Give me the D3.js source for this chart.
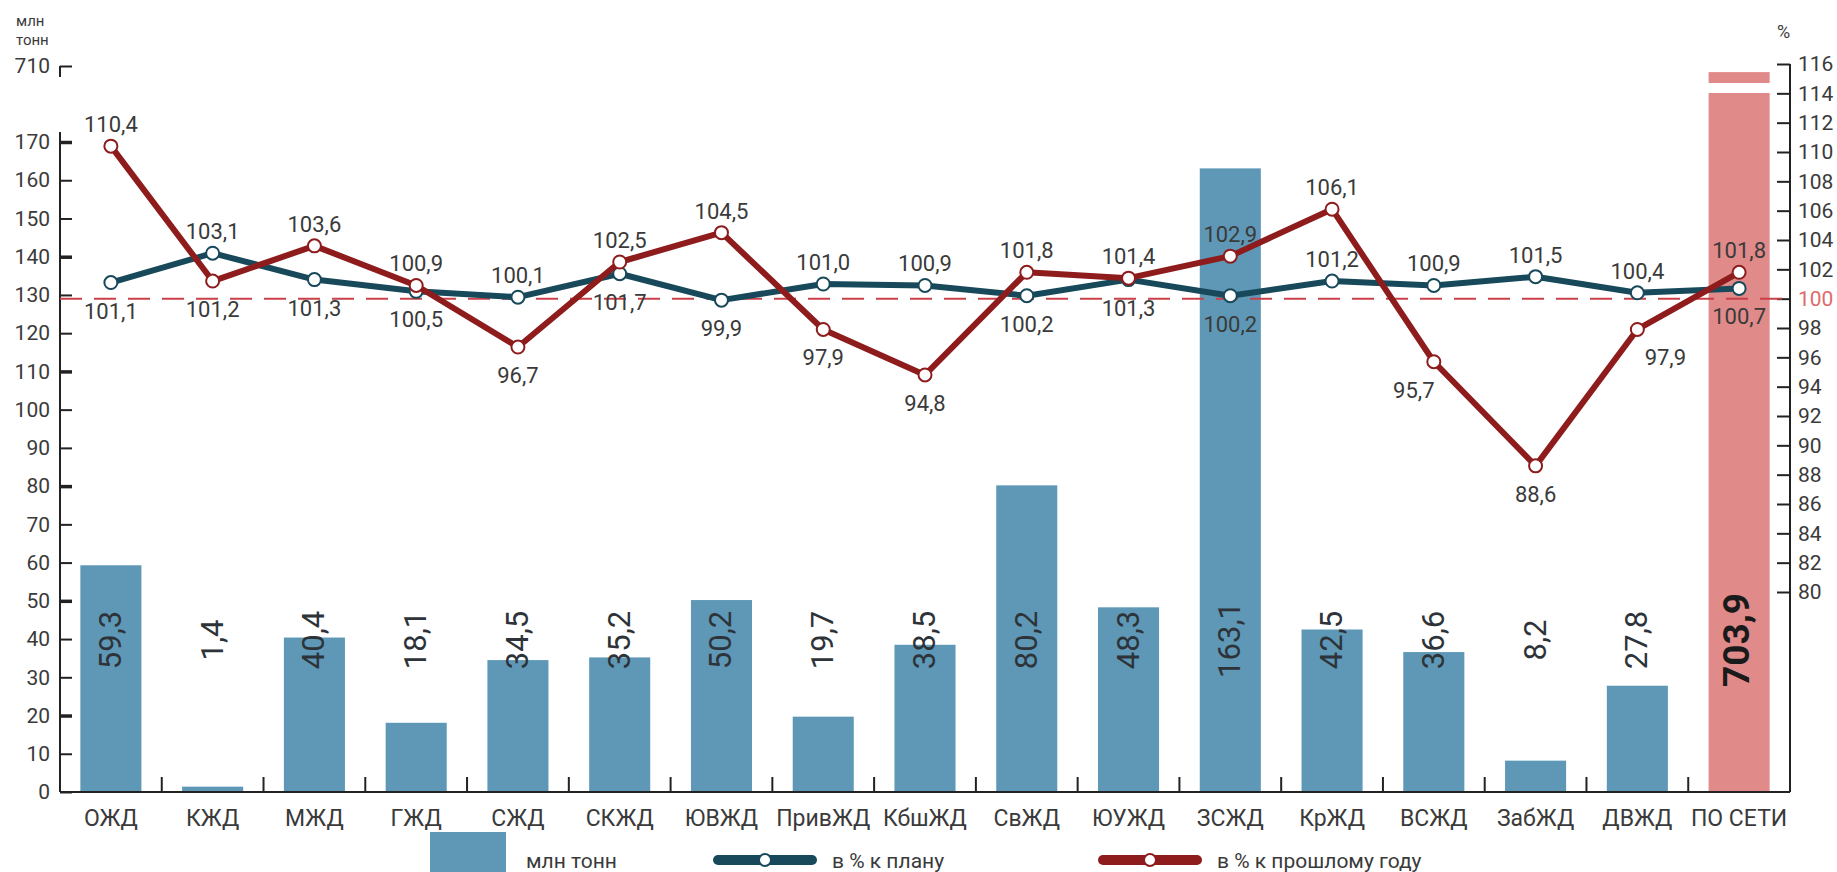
<!DOCTYPE html>
<html>
<head>
<meta charset="utf-8">
<script src="https://cdn.jsdelivr.net/npm/d3@7"></script>
<style>
  body { margin: 0; background: #fff; }
  svg { font-family: Roboto, "Liberation Sans", sans-serif; }
</style>
</head>
<body>
<svg width="1837" height="872"></svg>
<script>
// railways
const roads = ["ОЖД", "КЖД", "МЖД", "ГЖД", "СЖД", "СКЖД", "ЮВЖД", "ПривЖД", "КбшЖД",
  "СвЖД", "ЮУЖД", "ЗСЖД", "КрЖД", "ВСЖД", "ЗабЖД", "ДВЖД", "ПО СЕТИ"];
// млн тонн
const tonnes = [59.3, 1.4, 40.4, 18.1, 34.5, 35.2, 50.2, 19.7, 38.5, 80.2, 48.3, 163.1, 42.5, 36.6, 8.2, 27.8, 703.9];
// в % к плану
const planPct = [101.1, 103.1, 101.3, 100.5, 100.1, 101.7, 99.9, 101.0, 100.9, 100.2, 101.3, 100.2, 101.2, 100.9, 101.5, 100.4, 100.7];
// в % к прошлому году
const prevPct = [110.4, 101.2, 103.6, 100.9, 96.7, 102.5, 104.5, 97.9, 94.8, 101.8, 101.4, 102.9, 106.1, 95.7, 88.6, 97.9, 101.8];

const leftTicks = [0, 10, 20, 30, 40, 50, 60, 70, 80, 90, 100, 110, 120, 130, 140, 150, 160, 170, 710];
const rightTicks = [80, 82, 84, 86, 88, 90, 92, 94, 96, 98, 100, 102, 104, 106, 108, 110, 112, 114, 116];

// where the value label sits: a = above point, b = below
const planSide = ["b", "a", "b", "b", "a", "b", "b", "a", "a", "b", "b", "b", "a", "a", "a", "a", "b"];
const prevSide = ["a", "b", "a", "a", "b", "a", "a", "b", "b", "a", "a", "a", "a", "b", "b", "b", "a"];

const BLUE_BAR = "#5e98b6", PINK_BAR = "#e18a8a";
const PLAN_COL = "#17495a", PREV_COL = "#8e1c1c";
const TXT = "#3a3a3a";

const fmt = d => d.toFixed(1).replace(".", ",");

let margin = { left: 60, right: 47, top: 66, bottom: 80 };
const W = 1837, H = 872;
const x0 = margin.left, x1 = W - margin.right, yBase = H - margin.bottom;

const svg = d3.select("svg");

const x = d3.scaleBand().domain(roads).range([x0, x1]).paddingInner(0.4).paddingOuter(0.2);
// broken scale: 0..170 then jump to 700..710
const yL = d3.scaleLinear().domain([0, 170, 700, 710]).range([yBase, 142, 76, 66]);
const yR = d3.scaleLinear().domain([80, 116]).range([592, 64]);

/**
 * bars
 */
svg.append("g").selectAll("rect")
  .data(roads)
  .join("rect")
  .attr("x", d => x(d))
  .attr("width", x.bandwidth())
  .attr("y", (d, i) => yL(tonnes[i]))
  .attr("height", (d, i) => yBase - yL(tonnes[i]))
  .attr("fill", (d, i) => i == roads.length - 1 ? PINK_BAR : BLUE_BAR);

// break in the total bar
svg.append("rect")
  .attr("x", x(roads[roads.length - 1]) - 2)
  .attr("width", x.bandwidth() + 4)
  .attr("y", 83)
  .attr("height", 10)
  .attr("fill", "#fff");

/**
 * left axis
 */
const gl = svg.append("g")
  .attr("transform", `translate(${x0},0)`)
  .call(d3.axisLeft(yL).tickValues(leftTicks).tickSize(-12).tickPadding(10).tickFormat(d => d));
gl.select(".domain").remove();
gl.selectAll(".tick line")
  .attr("stroke", "#222")
  .attr("stroke-width", d => (d % 30 == 20 && d <= 170) ? 3.5 : 2);
gl.selectAll(".tick text").attr("fill", TXT).style("font-size", "21px").attr("font-family", "Roboto, 'Liberation Sans', sans-serif");
gl.append("line").attr("x1", 0).attr("x2", 0).attr("y1", 132).attr("y2", yBase).attr("stroke", "#222").attr("stroke-width", 2);
gl.append("line").attr("x1", 0).attr("x2", 0).attr("y1", yL(710)).attr("y2", yL(710) + 11).attr("stroke", "#222").attr("stroke-width", 2);

svg.append("text").attr("x", 16).attr("y", 26).text("млн").attr("fill", TXT).style("font-size", "15px");
svg.append("text").attr("x", 16).attr("y", 45).text("тонн").attr("fill", TXT).style("font-size", "15px");

/**
 * right axis
 */
const gr = svg.append("g")
  .attr("transform", `translate(${x1},0)`)
  .call(d3.axisRight(yR).tickValues(rightTicks).tickSize(-13).tickPadding(8).tickFormat(d => d));
gr.select(".domain").remove();
gr.selectAll(".tick line").attr("stroke", "#222").attr("stroke-width", 2);
gr.selectAll(".tick text")
  .attr("fill", d => d == 100 ? "#e06a6c" : TXT)
  .style("font-size", "21px")
  .attr("font-family", "Roboto, 'Liberation Sans', sans-serif");
gr.append("line").attr("x1", 0).attr("x2", 0).attr("y1", yR(116)).attr("y2", yBase).attr("stroke", "#222").attr("stroke-width", 2);
svg.append("text").attr("x", 1777).attr("y", 38).text("%").attr("fill", TXT).style("font-size", "18px");

/**
 * bottom axis with ticks between bands
 */
svg.append("line").attr("x1", x0).attr("x2", x1).attr("y1", yBase).attr("y2", yBase).attr("stroke", "#222").attr("stroke-width", 2);
svg.append("g").selectAll("line")
  .data(roads.slice(1))
  .join("line")
  .attr("x1", d => x(d) - x.step() * x.paddingInner() / 2)
  .attr("x2", d => x(d) - x.step() * x.paddingInner() / 2)
  .attr("y1", yBase)
  .attr("y2", yBase - 15)
  .attr("stroke", "#222")
  .attr("stroke-width", 2);
svg.append("g").selectAll("text")
  .data(roads)
  .join("text")
  .attr("x", d => x(d) + x.bandwidth() / 2)
  .attr("y", yBase + 34)
  .attr("text-anchor", "middle")
  .attr("fill", TXT)
  .style("font-size", "23px")
  .text(d => d);

/**
 * bar value labels (rotated)
 */
svg.append("g").selectAll("text")
  .data(roads)
  .join("text")
  .attr("transform", d => `translate(${x(d) + x.bandwidth() / 2 + 10},640) rotate(-90)`)
  .attr("text-anchor", "middle")
  .attr("fill", (d, i) => i == roads.length - 1 ? "#1a1a1a" : "#2d3338")
  .style("font-size", (d, i) => i == roads.length - 1 ? "37px" : "31px")
  .style("font-weight", (d, i) => i == roads.length - 1 ? "bold" : "normal")
  .text((d, i) => fmt(tonnes[i]));

/**
 * 100% dashed line
 */
svg.append("line")
  .attr("x1", x0).attr("x2", x1)
  .attr("y1", yR(100)).attr("y2", yR(100))
  .attr("stroke", "#c9404a")
  .attr("stroke-width", 2)
  .attr("stroke-dasharray", "22,12");

/**
 * lines
 */
const cx = d => x(d) + x.bandwidth() / 2;
function drawSeries(vals, col) {
  const line = d3.line().x((d, i) => cx(roads[i])).y(d => yR(d));
  const g = svg.append("g");
  g.append("path")
    .datum(vals)
    .attr("fill", "none")
    .attr("stroke", col)
    .attr("stroke-width", 6)
    .attr("stroke-linejoin", "round")
    .attr("d", line);
  g.selectAll("circle")
    .data(vals)
    .join("circle")
    .attr("cx", (d, i) => cx(roads[i]))
    .attr("cy", d => yR(d))
    .attr("r", 6.5)
    .attr("fill", "#fff")
    .attr("stroke", col)
    .attr("stroke-width", 2);
}
drawSeries(planPct, PLAN_COL);
drawSeries(prevPct, PREV_COL);

function drawLabels(vals, side, shift) {
  svg.append("g").selectAll("text")
    .data(vals)
    .join("text")
    .attr("x", (d, i) => cx(roads[i]) + (shift[i] || 0))
    .attr("y", (d, i) => yR(d) + (side[i] == "a" ? -14 : 36))
    .attr("text-anchor", "middle")
    .attr("fill", TXT)
    .style("font-size", "22px")
    .text(d => fmt(d));
}
drawLabels(planPct, planSide, {});
drawLabels(prevPct, prevSide, { 13: -20, 15: 28 });

/**
 * legend
 */
const leg = svg.append("g");
leg.append("rect").attr("x", 430).attr("y", 832).attr("width", 76).attr("height", 42).attr("fill", BLUE_BAR);
leg.append("text").attr("x", 526).attr("y", 868).text("млн тонн").attr("fill", TXT).style("font-size", "21px");
const legendLines = [
  { x: 718, col: PLAN_COL, name: "в % к плану" },
  { x: 1103, col: PREV_COL, name: "в % к прошлому году" }
];
for (var i = 0; i < legendLines.length; i++) {
  var l = legendLines[i];
  leg.append("line").attr("x1", l.x).attr("x2", l.x + 94).attr("y1", 860).attr("y2", 860)
    .attr("stroke", l.col).attr("stroke-width", 10).attr("stroke-linecap", "round");
  leg.append("circle").attr("cx", l.x + 47).attr("cy", 860).attr("r", 6).attr("fill", "#fff").attr("stroke", l.col).attr("stroke-width", 2);
  leg.append("text").attr("x", l.x + 114).attr("y", 868).text(l.name).attr("fill", TXT).style("font-size", "21px");
}
</script>
</body>
</html>
